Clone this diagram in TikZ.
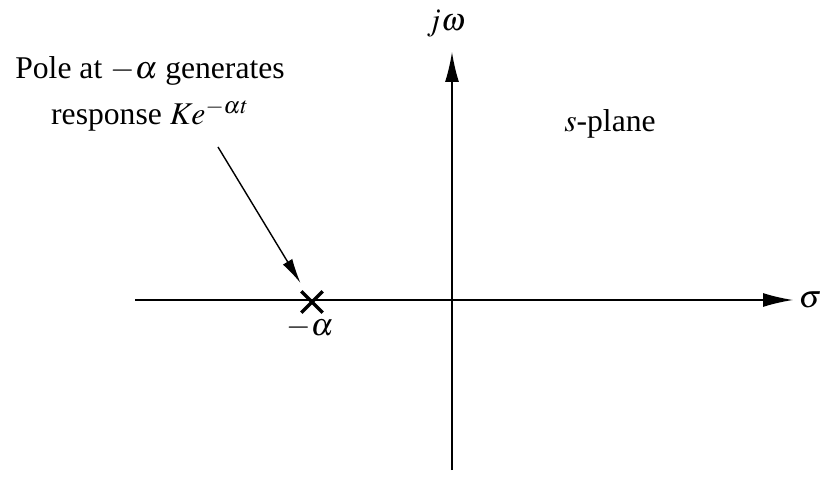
\documentclass[tikz,border=0pt]{standalone}
\usepackage{amsmath,amssymb}
\usepackage{mathptmx}
\usepackage{fontspec}
\setmainfont{Liberation Serif}
\usepackage{tikz}
\usetikzlibrary{arrows.meta}
\usepackage{xcolor}

\begin{document}
\begin{tikzpicture}[>=latex, line width=0.8pt, font=\fontsize{18}{21}\selectfont]
\useasboundingbox (0,0) rectangle (16.62,9.52);
\coordinate (xl) at (2.70,3.52);
\coordinate (xr) at (15.86,3.52);
\coordinate (yb) at (9.04,0.12);
\coordinate (yt) at (9.04,8.48);
\node[inner sep=0pt,minimum size=0.4cm] (pole) at (6.24,3.48) {};
\node (sig) at (16.20,3.52) {$\sigma$};
\node (jw) at (8.92,9.04) {$j\omega$};
\node (ma) at (6.20,2.96) {$-\alpha$};
\node (sp) at (12.20,7.04) {$s$-plane};
\node[align=center] (note) at (3.00,7.64) {Pole at $-\alpha$ generates\\[0.18cm]response $Ke^{-\alpha t}$};
\coordinate (tail) at (4.36,6.58);

\draw[-{Latex[length=0.6cm,width=0.28cm]}] (xl) -- (xr);
\draw[-{Latex[length=0.6cm,width=0.28cm]}] (yb) -- (yt);
\draw[line width=2pt] (pole.south west) -- (pole.north east) (pole.north west) -- (pole.south east);
\draw[-{Latex[length=0.5cm,width=0.22cm]},shorten >=0.19cm] (tail) -- (pole);
\end{tikzpicture}
\end{document}
